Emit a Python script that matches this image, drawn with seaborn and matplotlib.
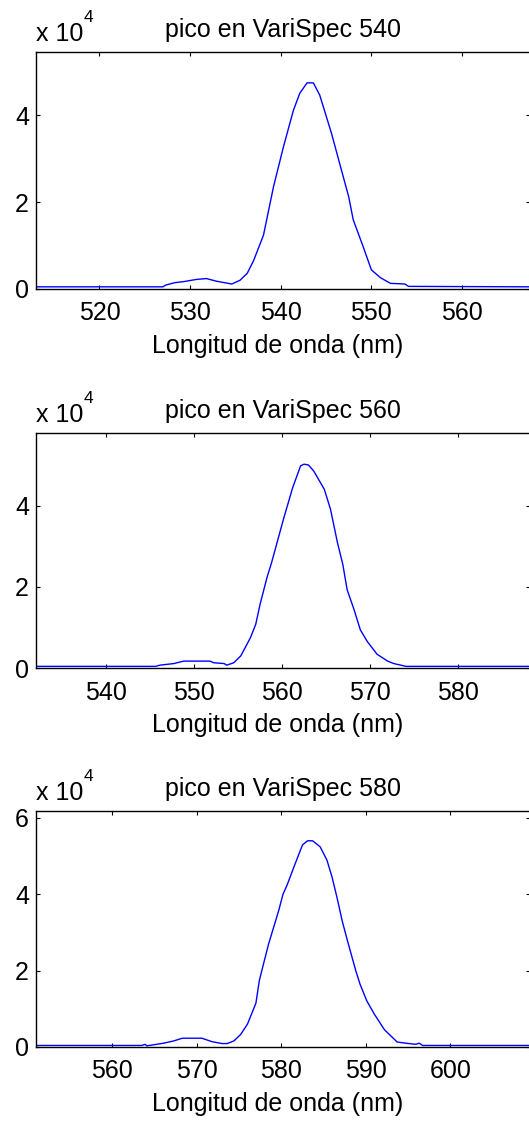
import matplotlib
matplotlib.use("Agg")
import matplotlib.pyplot as plt
import seaborn as sns
import pandas as pd

# ---- data (wavelength in nm, counts) ----
wl_540 = [513.0, 527.0, 527.3, 528.3, 529.3, 530.7, 531.8, 532.9, 534.2, 534.6, 535.5, 536.3,
          537.0, 538.1, 539.2, 540.3, 541.4, 542.1, 542.9, 543.6, 544.3, 545.6, 546.6, 547.5,
          548.0, 549.1, 550.0, 551.0, 552.1, 553.7, 554.1, 567.5]
cnt_540 = [500, 500, 900, 1450, 1700, 2200, 2400, 1800, 1300, 1150, 2000, 3600,
           6500, 12400, 23500, 32700, 41100, 45000, 47400, 47400, 44600, 35800, 28100, 21200,
           15900, 9700, 4400, 2600, 1300, 1150, 600, 500]

wl_560 = [532.0, 545.6, 546.1, 547.7, 548.8, 551.8, 552.2, 553.4, 553.7, 554.5, 555.3, 556.4,
          557.0, 557.5, 558.3, 558.8, 560.2, 561.2, 562.1, 562.5, 563.0, 563.6, 564.8, 565.5,
          566.3, 566.9, 567.4, 568.2, 568.9, 569.7, 570.8, 572.0, 572.7, 573.5, 574.1, 588.2]
cnt_560 = [400, 400, 700, 1100, 1700, 1700, 1300, 1100, 700, 1300, 3000, 7500,
           10800, 15800, 22500, 26000, 37100, 44500, 49900, 50300, 50100, 48600, 44100, 39200,
           30900, 25600, 19300, 14300, 9400, 6500, 3400, 1700, 1100, 700, 400, 400]

wl_580 = [551.0, 563.5, 563.9, 564.1, 566.1, 567.3, 568.3, 570.6, 571.8, 573.0, 573.6, 574.4,
          575.2, 576.0, 577.0, 577.4, 577.9, 578.5, 579.1, 579.7, 580.2, 580.7, 581.5, 582.5,
          583.1, 583.7, 584.6, 585.4, 586.0, 586.6, 587.2, 587.8, 588.3, 588.8, 589.3, 590.1,
          591.0, 592.2, 593.7, 594.7, 595.9, 596.3, 596.7, 609.4]
cnt_580 = [400, 400, 700, 300, 1000, 1600, 2300, 2300, 1400, 900, 900, 1600,
           3300, 6000, 11500, 17400, 21800, 27000, 31400, 35800, 40000, 42500, 47200, 52900,
           54000, 54000, 52400, 48900, 44500, 39000, 33000, 28000, 24000, 20000, 16500, 12100,
           8600, 4500, 1300, 1000, 700, 1000, 400, 400]

titles = ["pico en VariSpec 540", "pico en VariSpec 560", "pico en VariSpec 580"]
xlabel = "Longitud de onda (nm)"
xlims = [(513.0, 567.5), (532.0, 588.2), (551.0, 609.4)]
ylims = [(0, 54500), (0, 58000), (0, 61800)]
xticks = [[520, 530, 540, 550, 560], [540, 550, 560, 570, 580], [560, 570, 580, 590, 600]]
yticks = [[0, 20000, 40000], [0, 20000, 40000], [0, 20000, 40000, 60000]]

series = [(wl_540, cnt_540), (wl_560, cnt_560), (wl_580, cnt_580)]

# ---- style ----
sns.set_style("ticks")
plt.rcParams["font.family"] = ["Liberation Sans", "DejaVu Sans"]
plt.rcParams["text.color"] = "black"
plt.rcParams["axes.labelcolor"] = "black"
plt.rcParams["xtick.color"] = "black"
plt.rcParams["ytick.color"] = "black"
FS = 18

W, H = 529, 1121
fig = plt.figure(figsize=(W / 100, H / 100), dpi=100)

boxes = [(52, 289), (433, 668), (811, 1047)]  # (top, bottom) in pixels
left_px, right_px = 36, 530

for i, ((top, bot), (wl, cnt)) in enumerate(zip(boxes, series)):
    h = bot - top
    ax = fig.add_axes([left_px / W, 1 - bot / H, (right_px - left_px) / W, h / H])
    df = pd.DataFrame({"wl": wl, "cnt": cnt})
    sns.lineplot(data=df, x="wl", y="cnt", ax=ax, color=(0, 0, 1), lw=1.0,
                 estimator=None, sort=False)
    ax.set_xlim(*xlims[i])
    ax.set_ylim(*ylims[i])
    ax.set_xticks(xticks[i])
    ax.set_yticks(yticks[i])
    ax.set_xticklabels([str(t) for t in xticks[i]])
    ax.set_yticklabels([str(t // 10000) for t in yticks[i]])
    ax.tick_params(direction="in", length=3, width=0.8, top=True, right=True,
                   labelsize=FS, colors="black")
    ax.tick_params(axis="x", pad=9)
    ax.tick_params(axis="y", pad=5)
    for s in ax.spines.values():
        s.set_linewidth(1.0)
        s.set_color("black")
    ax.set_ylabel("")
    ax.set_xlabel(xlabel, fontsize=FS, color="black")
    ax.xaxis.set_label_coords((278 - left_px) / (right_px - left_px), -(353 - 289) / h)
    ax.xaxis.label.set_verticalalignment("baseline")
    ax.set_title(titles[i], fontsize=FS, color="black", y=1 + 15 / h, pad=0,
                 va="baseline")
    # MATLAB-style exponent
    fig.text(left_px / W, 1 - (top - 11) / H, "x 10", fontsize=FS, va="baseline", ha="left",
             color="black")
    fig.text(84 / W, 1 - (top - 30) / H, "4", fontsize=12.5, va="baseline", ha="left",
             color="black")

fig.savefig("out.png", dpi=100, facecolor="white")
